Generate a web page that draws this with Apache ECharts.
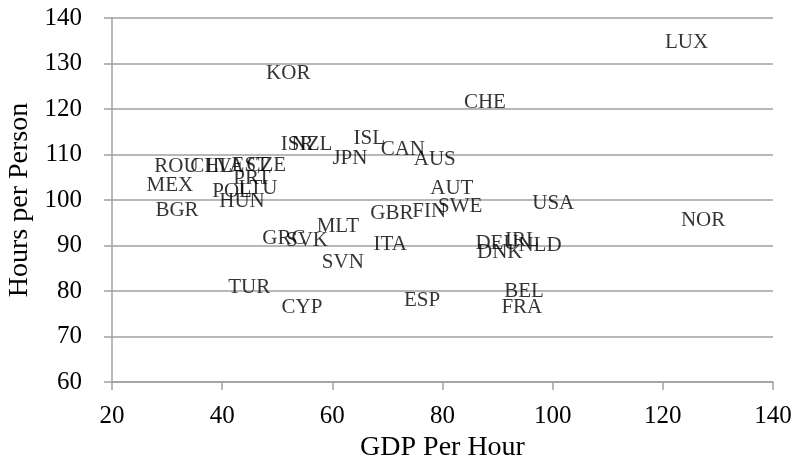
<!DOCTYPE html>
<html>
<head>
<meta charset="utf-8">
<script src="https://cdn.jsdelivr.net/npm/echarts@6/dist/echarts.min.js"></script>
<style>
  html, body { margin: 0; padding: 0; background: #fff; }
  #main { width: 793px; height: 474px; }
</style>
</head>
<body>
<div id="main"></div>
<script>
// country codes with their GDP per hour and hours per person
var countries = ['LUX', 'KOR', 'CHE', 'ISL', 'ISR', 'NZL', 'CAN', 'JPN', 'AUS',
  'ROU', 'CHL', 'LVA', 'EST', 'CZE', 'PRT', 'POL', 'LTU', 'HUN', 'MEX', 'BGR',
  'AUT', 'USA', 'GBR', 'FIN', 'SWE', 'NOR', 'GRC', 'SVK', 'MLT', 'ITA', 'SVN',
  'DEU', 'IRL', 'NLD', 'DNK', 'TUR', 'CYP', 'ESP', 'BEL', 'FRA'];
var gdpPerHour = [124.3, 52.0, 87.7, 66.7, 53.6, 56.3, 72.8, 63.2, 78.6,
  31.7, 38.0, 40.5, 45.1, 48.0, 45.4, 41.8, 46.5, 43.6, 30.5, 31.8,
  81.7, 100.1, 70.8, 77.6, 83.2, 127.3, 51.2, 55.4, 61.0, 70.5, 61.9,
  89.9, 94.4, 97.7, 90.4, 44.9, 54.5, 76.3, 94.8, 94.4];
var hoursPerPerson = [134.7, 127.9, 121.5, 113.6, 112.1, 112.1, 111.0, 109.2, 108.8,
  107.3, 107.3, 107.3, 107.5, 107.5, 104.8, 101.8, 102.6, 99.6, 103.3, 97.8,
  102.6, 99.3, 97.1, 97.4, 98.5, 95.6, 91.6, 91.2, 94.1, 90.3, 86.2,
  90.5, 91.2, 89.9, 88.4, 80.7, 76.3, 78.0, 79.8, 76.3];

var points = countries.map(function (c, i) {
  return { name: c, value: [gdpPerHour[i], hoursPerPerson[i]] };
});

var FONT = '"Liberation Serif", serif';
var axisGray = '#a0a0a0';

var chart = echarts.init(document.getElementById('main'));
chart.setOption({
  backgroundColor: '#fff',
  animation: false,
  textStyle: { fontFamily: FONT },
  grid: { left: 112, right: 20, top: 18, bottom: 92, outerBoundsMode: 'none' },
  xAxis: {
    type: 'value',
    min: 20,
    max: 140,
    interval: 20,
    name: 'GDP Per Hour',
    nameLocation: 'middle',
    nameGap: 43,
    nameTextStyle: { fontFamily: FONT, fontSize: 28, color: '#000' },
    axisLine: { show: true, lineStyle: { color: axisGray, width: 1.5 } },
    axisTick: { show: true, inside: false, length: 8, lineStyle: { color: axisGray, width: 1.5 } },
    axisLabel: { fontFamily: FONT, fontSize: 25, color: '#000', margin: 22 },
    splitLine: { show: false }
  },
  yAxis: {
    type: 'value',
    min: 60,
    max: 140,
    interval: 10,
    name: 'Hours per Person',
    nameLocation: 'middle',
    nameGap: 77,
    nameTextStyle: { fontFamily: FONT, fontSize: 28, color: '#000' },
    axisLine: { show: true, lineStyle: { color: axisGray, width: 1.5 } },
    axisTick: { show: true, inside: false, length: 8, lineStyle: { color: axisGray, width: 1.5 } },
    axisLabel: { fontFamily: FONT, fontSize: 25, color: '#000', margin: 30 },
    splitLine: { show: true, lineStyle: { color: axisGray, width: 1.5 } }
  },
  series: [{
    type: 'scatter',
    data: points,
    symbolSize: 1,
    itemStyle: { color: 'rgba(0,0,0,0)' },
    label: {
      show: true,
      position: 'inside',
      formatter: '{b}',
      fontFamily: FONT,
      fontSize: 21,
      color: '#000'
    }
  }]
});
</script>
</body>
</html>
